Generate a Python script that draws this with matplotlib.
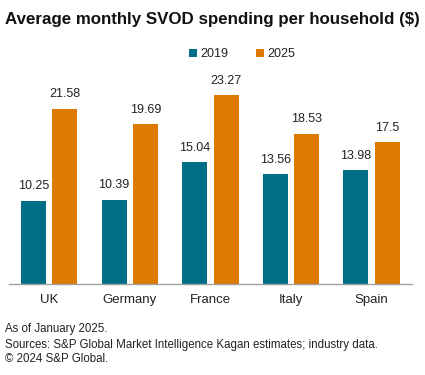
from matplotlib import pyplot as plt
import numpy as np

# data
countries = ['UK', 'Germany', 'France', 'Italy', 'Spain']
spend_2019 = [10.25, 10.39, 15.04, 13.56, 13.98]
spend_2025 = [21.58, 19.69, 23.27, 18.53, 17.5]
labels_2019 = ['10.25', '10.39', '15.04', '13.56', '13.98']
labels_2025 = ['21.58', '19.69', '23.27', '18.53', '17.5']

teal = '#006E87'
orange = '#DD7B00'
txt = '#222222'

plt.rcParams['font.family'] = ['Liberation Sans', 'DejaVu Sans']

fig = plt.figure(figsize=(4.25, 3.75), dpi=100)
ax = fig.add_axes([0.021, 0.2427, 0.948, 0.5573])

x = np.arange(len(countries))
w = 0.31
off = 0.195
b1 = ax.bar(x - off, spend_2019, w, color=teal, label='2019')
b2 = ax.bar(x + off, spend_2025, w, color=orange, label='2025')

# value labels above each bar
for bars, labs in ((b1, labels_2019), (b2, labels_2025)):
    for b, lab in zip(bars, labs):
        ax.annotate(lab, (b.get_x() + b.get_width() / 2, b.get_height()),
                    xytext=(0, 6), textcoords='offset points',
                    ha='center', va='bottom', fontsize=9, color=txt)

ax.set_xlim(-0.5, len(countries) - 0.5)
ax.set_ylim(0, 25.74)
ax.set_xticks(x)
ax.set_xticklabels(countries, fontsize=9.5, color=txt)
ax.tick_params(axis='x', length=0, pad=7)
ax.set_yticks([])
for s in ['top', 'right', 'left']:
    ax.spines[s].set_visible(False)
ax.spines['bottom'].set_color('#A0A0A0')
ax.spines['bottom'].set_linewidth(1)

fig.text(0.5, 0.947, 'Average monthly SVOD spending per household ($)',
         ha='center', va='center', fontsize=12.2, fontweight='bold', color='#111111')

fig.legend(loc='center', bbox_to_anchor=(0.57, 0.856), ncol=2, frameon=False,
           fontsize=9, handlelength=0.6, handleheight=0.6, handletextpad=0.3,
           columnspacing=2.2, labelcolor=txt)

fig.text(0.012, 0.122, 'As of January 2025.', fontsize=8.3, color=txt, va='center')
fig.text(0.012, 0.079, 'Sources: S&P Global Market Intelligence Kagan estimates; industry data.',
         fontsize=8.3, color=txt, va='center')
fig.text(0.012, 0.044, '\u00a9 2024 S&P Global.', fontsize=8.3, color=txt, va='center')

fig.savefig('out.png', dpi=100)
